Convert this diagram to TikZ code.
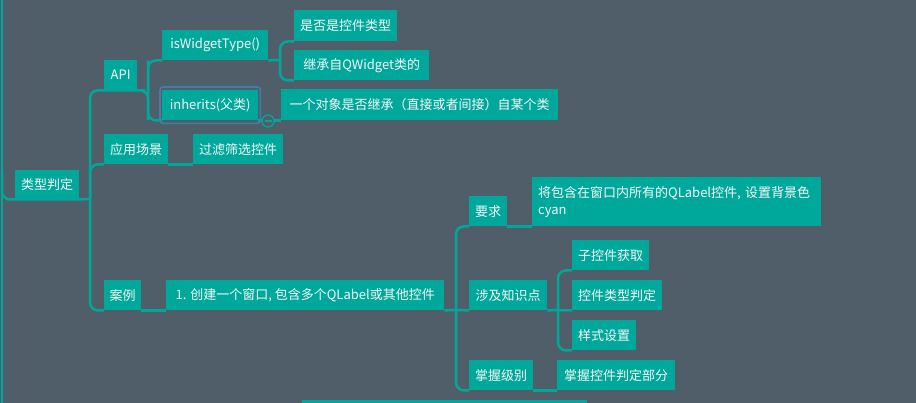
\documentclass[tikz,border=0pt]{standalone}
\usepackage{fontspec}
\setmainfont{Noto Sans CJK SC}
\definecolor{bgc}{RGB}{80,94,106}
\definecolor{teal1}{RGB}{0,168,156}
\definecolor{selc}{RGB}{62,128,164}
\definecolor{txt}{RGB}{245,248,245}
\begin{document}
\begin{tikzpicture}[x=1pt,y=-1pt,
  box/.style={fill=teal1,text=txt,inner sep=0pt,anchor=north west,font=\fontsize{13}{17}\selectfont},
  conn/.style={draw=teal1,line width=2.5pt,rounded corners=8pt}]
\fill[bgc] (0,0) rectangle (916,403);
\useasboundingbox (0,0) rectangle (916,403);
% nodes
\node[box,minimum width=64pt,minimum height=29pt] (lx) at (15,170) {类型判定};
\node[box,minimum width=33pt,minimum height=30pt] (api) at (104,60) {API};
\node[box,minimum width=106pt,minimum height=30pt] (isw) at (162,30) {isWidgetType()};
\node[box,minimum width=96pt,minimum height=30pt] (inh) at (162,90) {inherits(父类)};
\node[box,minimum width=103pt,minimum height=31pt] (sf) at (294,10) {是否是控件类型};
\node[box,minimum width=135pt,minimum height=30pt] (jc) at (294,50) {继承自QWidget类的};
\node[box,minimum width=277pt,minimum height=31pt] (yg) at (281,89) {一个对象是否继承（直接或者间接）自某个类};
\node[box,minimum width=64pt,minimum height=30pt] (app) at (104,134) {应用场景};
\node[box,minimum width=90pt,minimum height=30pt] (gl) at (193,134) {过滤筛选控件};
\node[box,minimum width=37pt,minimum height=30pt] (case) at (104,280) {案例};
\node[box,minimum width=278pt,minimum height=30pt] (cj) at (166,280) {1. 创建一个窗口, 包含多个QLabel或其他控件};
\node[box,minimum width=38pt,minimum height=30pt] (yq) at (469,196) {要求};
\node[box,minimum width=289pt,minimum height=49pt,text width=277pt,align=left,inner xsep=6pt] (jbh) at (532,177) {将包含在窗口内所有的QLabel控件, 设置背景色\\cyan};
\node[box,minimum width=78pt,minimum height=30pt] (sj) at (469,280) {涉及知识点};
\node[box,minimum width=77pt,minimum height=30pt] (zk) at (572,240) {子控件获取};
\node[box,minimum width=90pt,minimum height=30pt] (kl) at (572,280) {控件类型判定};
\node[box,minimum width=64pt,minimum height=30pt] (ys) at (572,320) {样式设置};
\node[box,minimum width=64pt,minimum height=30pt] (zw) at (469,360) {掌握级别};
\node[box,minimum width=118pt,minimum height=30pt] (zwk) at (557,360) {掌握控件判定部分};
% partial node at bottom
\fill[teal1] (302,399.5) rectangle (587,404);
% fork coordinates
\coordinate (top0) at (2,0);
\coordinate (bot0) at (2,403);
\coordinate (f1) at (90,199);
\coordinate (f2) at (148,120);
\coordinate (f3) at (280,60);
\coordinate (f4) at (456,310);
\coordinate (f5) at (558,310);
% connectors
\draw[conn] (top0) -- (bot0);
\draw[conn] (2,170) |- (lx.south west) -- (lx.south east) -- (f1);
\draw[conn] (f1) |- (api.south west);
\draw[conn] (f1) |- (app.south west);
\draw[conn] (f1) |- (case.south west);
\draw[conn] (api.south west) -- (api.south east) -| (f2);
\draw[conn] (f2 |- isw.south west) |- (inh.south west);
\draw[conn] (f2 |- api.south east) |- (isw.south west);
\draw[conn] (isw.south east) -- (f3);
\draw[conn] (f3) |- (sf.south west);
\draw[conn] (f3) |- (jc.south west);
\draw[conn] (app.south east) -- (gl.south west);
\draw[conn] (case.south east) -- (cj.south west);
\draw[conn] (cj.south east) -- (f4);
\draw[conn] (f4) |- (yq.south west);
\draw[conn] (f4) |- (zw.south west);
\draw[conn] (f4) -- (sj.south west);
\draw[conn] (yq.south east) -- (jbh.south west);
\draw[conn] (sj.south east) -- (f5);
\draw[conn] (f5) |- (zk.south west);
\draw[conn] (f5) |- (ys.south west);
\draw[conn] (f5) -- (kl.south west);
\draw[conn] (zw.south east) -- (zwk.south west);
% inherits selection and collapse button
\draw[conn] (inh.south east) -- (yg.south west);
\draw[selc,line width=1.6pt,rounded corners=3pt] ([shift={(-2,-3)}]inh.north west) rectangle ([shift={(2,3)}]inh.south east);
\node[circle,draw=teal1,fill=bgc,line width=1.2pt,minimum size=12pt,inner sep=0pt] (btn) at (268,121) {};
\draw[teal1,line width=1.2pt] ([xshift=-3.5pt]btn.center) -- ([xshift=3.5pt]btn.center);
\end{tikzpicture}
\end{document}
